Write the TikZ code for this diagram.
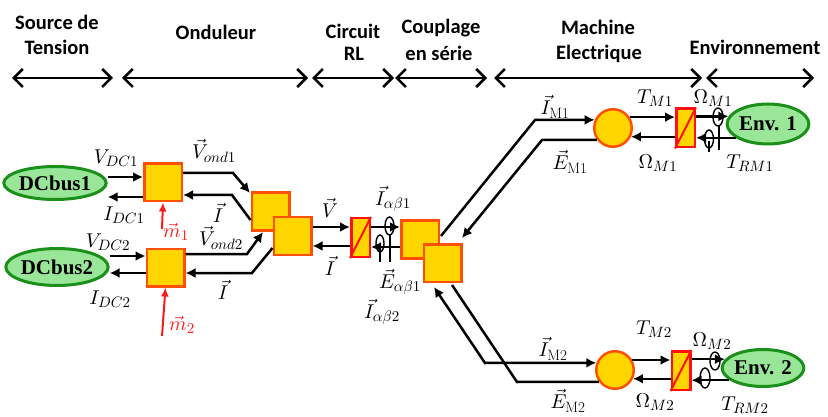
\documentclass[tikz,border=0pt]{standalone}
\usepackage{fontspec}
\DeclareFontShape{OML}{cmm}{m}{it}{<->cmmi10}{}
\DeclareFontShape{OMS}{cmsy}{m}{n}{<->cmsy10}{}
\DeclareFontShape{OMX}{cmex}{m}{n}{<->cmex10}{}
\DeclareFontShape{OT1}{cmr}{m}{n}{<->cmr10}{}
\DeclareMathSizes{20}{20}{15}{11}
\newfontfamily\hdrfont{Carlito}
\newfontfamily\serifb{Liberation Serif}
\usetikzlibrary{arrows.meta,shapes.geometric}
\definecolor{gold}{HTML}{FFD500}
\definecolor{orng}{HTML}{FF5000}
\definecolor{rred}{HTML}{FF1010}
\definecolor{lgreen}{HTML}{99E699}
\definecolor{dgreen}{HTML}{1A8F1A}
\definecolor{mred}{HTML}{FF1A1A}
\tikzset{
  hdr/.style={font=\hdrfont\bfseries\fontsize{20.5}{24}\selectfont, anchor=base, inner sep=0pt},
  lbl/.style={font=\fontsize{20}{22}\selectfont, inner sep=0pt},
  sqbox/.style={draw=orng, fill=gold, line width=2.5pt, minimum size=37.5pt, inner sep=0pt},
  rlbox/.style={draw=rred, fill=gold, line width=2.5pt, minimum width=18.5pt, minimum height=38.5pt, inner sep=0pt},
  mach/.style={circle, draw=orng, fill=gold, line width=2.5pt, minimum size=37.5pt, inner sep=0pt},
  envn/.style={ellipse, draw=dgreen, fill=lgreen, line width=3pt, inner sep=0pt, minimum width=77pt, font=\serifb\bfseries\fontsize{21}{23}\selectfont},
  wire/.style={line width=2.5pt},
  con/.style={wire, -{Latex[length=10pt,width=10pt]}},
  dcon/.style={wire, {Latex[length=10pt,width=10pt]}-{Latex[length=10pt,width=10pt]}},
  harr/.style={line width=2.5pt, {Straight Barb[length=9pt,width=18pt]}-{Straight Barb[length=9pt,width=18pt]}},
  redarr/.style={draw=mred, line width=2pt, -{Latex[length=9pt,width=8pt]}},
  lol/.style={line width=1.4pt},
}
\begin{document}
\begin{tikzpicture}[x=1pt,y=-1pt]
\useasboundingbox (0,0) rectangle (828,417);
% ---------- headers ----------
\node[hdr] (h1a) at (57,30) {Source de};
\node[hdr] (h1b) at (57,55) {Tension};
\node[hdr] (h2) at (216,40) {Onduleur};
\node[hdr] (h3a) at (353,39) {Circuit};
\node[hdr] (h3b) at (354,61) {RL};
\node[hdr] (h4a) at (441,34) {Couplage};
\node[hdr] (h4b) at (439,61) {en série};
\node[hdr] (h5a) at (598,35) {Machine};
\node[hdr] (h5b) at (599,60) {Electrique};
\node[hdr] (h6) at (755,55) {Environnement};
\coordinate (a1l) at (12,78);  \coordinate (a1r) at (113,78);
\coordinate (a2l) at (122,78); \coordinate (a2r) at (308,78);
\coordinate (a3l) at (312,78); \coordinate (a3r) at (394,78);
\coordinate (a4l) at (395,78); \coordinate (a4r) at (487,78);
\coordinate (a5l) at (494,78); \coordinate (a5r) at (702,78);
\coordinate (a6l) at (706,78); \coordinate (a6r) at (814,78);
\draw[harr] (a1l) -- (a1r);
\draw[harr] (a2l) -- (a2r);
\draw[harr] (a3l) -- (a3r);
\draw[harr] (a4l) -- (a4r);
\draw[harr] (a5l) -- (a5r);
\draw[harr] (a6l) -- (a6r);
% ---------- blocks ----------
\node[envn, minimum height=33pt] (dc1) at (55,183) {DCbus1};
\node[envn, minimum height=37pt] (dc2) at (57,267) {DCbus2};
\node[sqbox] (s1) at (163,182.5) {};
\node[sqbox] (s2) at (165.5,267.5) {};
\node[sqbox] (cA) at (270.5,211.5) {};
\node[sqbox] (cB) at (292.5,236) {};
\node[rlbox] (rl) at (360.5,237.5) {};
\draw[rred, line width=2pt] (rl.south west) -- (rl.north east);
\node[sqbox] (cC) at (420,239.5) {};
\node[sqbox] (cD) at (442.5,263) {};
\node[mach] (m1) at (613,128) {};
\node[mach] (m2) at (615,370) {};
\node[rlbox] (r1) at (685.5,128) {};
\draw[rred, line width=2pt] (r1.south west) -- (r1.north east);
\node[rlbox] (r2) at (681,370.5) {};
\draw[rred, line width=2pt] (r2.south west) -- (r2.north east);
\node[envn, minimum height=40pt] (e1) at (768,124) {Env. 1};
\node[envn, minimum height=37pt] (e2) at (763,368) {Env. 2};
% ---------- source to inverter ----------
\draw[con] (dc1.east |- 0,177) -- (s1.west |- 0,177);
\draw[con] (s1.west |- 0,197) -- (dc1.east |- 0,197);
\draw[con] (dc2.east |- 0,256) -- (s2.west |- 0,256);
\draw[con] (s2.west |- 0,273) -- (dc2.east |- 0,273);
\coordinate (m1base) at (162,229);
\coordinate (m2base) at (162,336);
\draw[redarr] (m1base) -- (s1.south);
\draw[redarr] (m2base) -- (s2.south);
% ---------- inverter coupling ----------
\coordinate (b1) at (233,173); \coordinate (t1) at (250,193);
\coordinate (b2) at (232,195);
\coordinate (b3) at (247,254); \coordinate (t3) at (263,232);
\coordinate (b4) at (252,273);
\draw[con] (s1.east |- 0,173) -- (b1) -- (t1);
\draw[con] (cA.west |- 0,220) -- (b2) -- (s1.east |- 0,195);
\draw[con] (s2.east |- 0,254) -- (b3) -- (t3);
\draw[con] (cB.west |- 0,248) -- (b4) -- (s2.east |- 0,273);
% ---------- RL circuit ----------
\draw[con] (cB.east |- 0,227) -- (rl.west |- 0,227);
\draw[con] (rl.west |- 0,246) -- (cB.east |- 0,246);
\draw[con] (rl.east |- 0,227) -- (cC.west |- 0,227);
\draw[con] (cC.west |- 0,247) -- (rl.east |- 0,247);
\draw[lol] (389.5,226) ellipse [x radius=4.5pt, y radius=9pt];
\draw[lol] (390,235) -- (390,262);
\draw[lol] (380,243.5) ellipse [x radius=4pt, y radius=8.5pt];
\draw[lol] (380,252) -- (380,262);
% ---------- series coupling to machines ----------
\coordinate (c1s) at (441,236); \coordinate (k1) at (535,120);
\coordinate (k2) at (542,140);  \coordinate (c2e) at (462,238);
\coordinate (c3e) at (434,287); \coordinate (k3) at (485,363);
\coordinate (c4s) at (452,285); \coordinate (k4) at (517,382);
\draw[con] (c1s) -- (k1) -- (m1.156.4);
\draw[con] (m1.216.9) -- (k2) -- (c2e);
\draw[dcon] (c3e) -- (k3) -- (m2.159.5);
\draw[wire] (c4s) -- (k4) -- (m2.216.9);
% ---------- machines to environment ----------
\draw[con] (m1.33.4) -- (r1.west |- m1.33.4);
\draw[con] (r1.west |- m1.-26.7) -- (m1.-26.7);
\draw[con] (r1.east |- e1.169) -- (e1.169);
\draw[con] (e1.203) -- (r1.east |- e1.203);
\draw[con] (m2.30) -- (r2.west |- m2.30);
\draw[con] (r2.west |- m2.-26.7) -- (m2.-26.7);
\draw[con] (r2.east |- e2.167) -- (e2.167);
\draw[con] (e2.200) -- (r2.east |- e2.200);
\draw[lol] (718,117) ellipse [x radius=5pt, y radius=9pt];
\draw[lol] (719,126) -- (719,150);
\draw[lol] (709,139) ellipse [x radius=4.5pt, y radius=9pt];
\draw[lol] (709,141) -- (709,152);
\draw[lol] (715,361) ellipse [x radius=5pt, y radius=9pt];
\draw[lol] (705,378) ellipse [x radius=5pt, y radius=10pt];
% ---------- labels ----------
\node[lbl] (lvdc1) at (116,158) {$V_{DC1}$};
\node[lbl] (lidc1) at (124,215) {$I_{DC1}$};
\node[lbl] (lvdc2) at (108,242) {$V_{DC2}$};
\node[lbl] (lidc2) at (110,299) {$I_{DC2}$};
\node[lbl] (lvo1) at (214,151) {$\vec{V}_{ond1}$};
\node[lbl] (li1) at (218,213) {$\vec{I}$};
\node[lbl] (lvo2) at (221,238) {$\vec{V}_{ond2}$};
\node[lbl] (li2) at (223,290) {$\vec{I}$};
\node[lbl, text=mred] (lm1) at (176,232) {$\vec{m}_1$};
\node[lbl, text=mred] (lm2) at (182,325) {$\vec{m}_2$};
\node[lbl] (lv) at (330,208) {$\vec{V}$};
\node[lbl] (li3) at (330,266) {$\vec{I}$};
\node[lbl] (liab1) at (393,199) {$\vec{I}_{\alpha\beta1}$};
\node[lbl] (leab1) at (400,282) {$\vec{E}_{\alpha\beta1}$};
\node[lbl] (liab2) at (382,312) {$\vec{I}_{\alpha\beta2}$};
\node[lbl] (lim1) at (555,107) {$\vec{I}_{\mathrm{M1}}$};
\node[lbl] (lem1) at (570,162) {$\vec{E}_{\mathrm{M1}}$};
\node[lbl] (ltm1) at (655,98) {$T_{M1}$};
\node[lbl] (lom1a) at (713,98) {$\Omega_{M1}$};
\node[lbl] (lom1b) at (658,163) {$\Omega_{M1}$};
\node[lbl] (ltrm1) at (750,163) {$T_{RM1}$};
\node[lbl] (lim2) at (553,349) {$\vec{I}_{\mathrm{M2}}$};
\node[lbl] (lem2) at (568,401) {$\vec{E}_{\mathrm{M2}}$};
\node[lbl] (ltm2) at (654,329) {$T_{M2}$};
\node[lbl] (lom2a) at (712,341) {$\Omega_{M2}$};
\node[lbl] (lom2b) at (655,402) {$\Omega_{M2}$};
\node[lbl] (ltrm2) at (745,405) {$T_{RM2}$};
\end{tikzpicture}
\end{document}
